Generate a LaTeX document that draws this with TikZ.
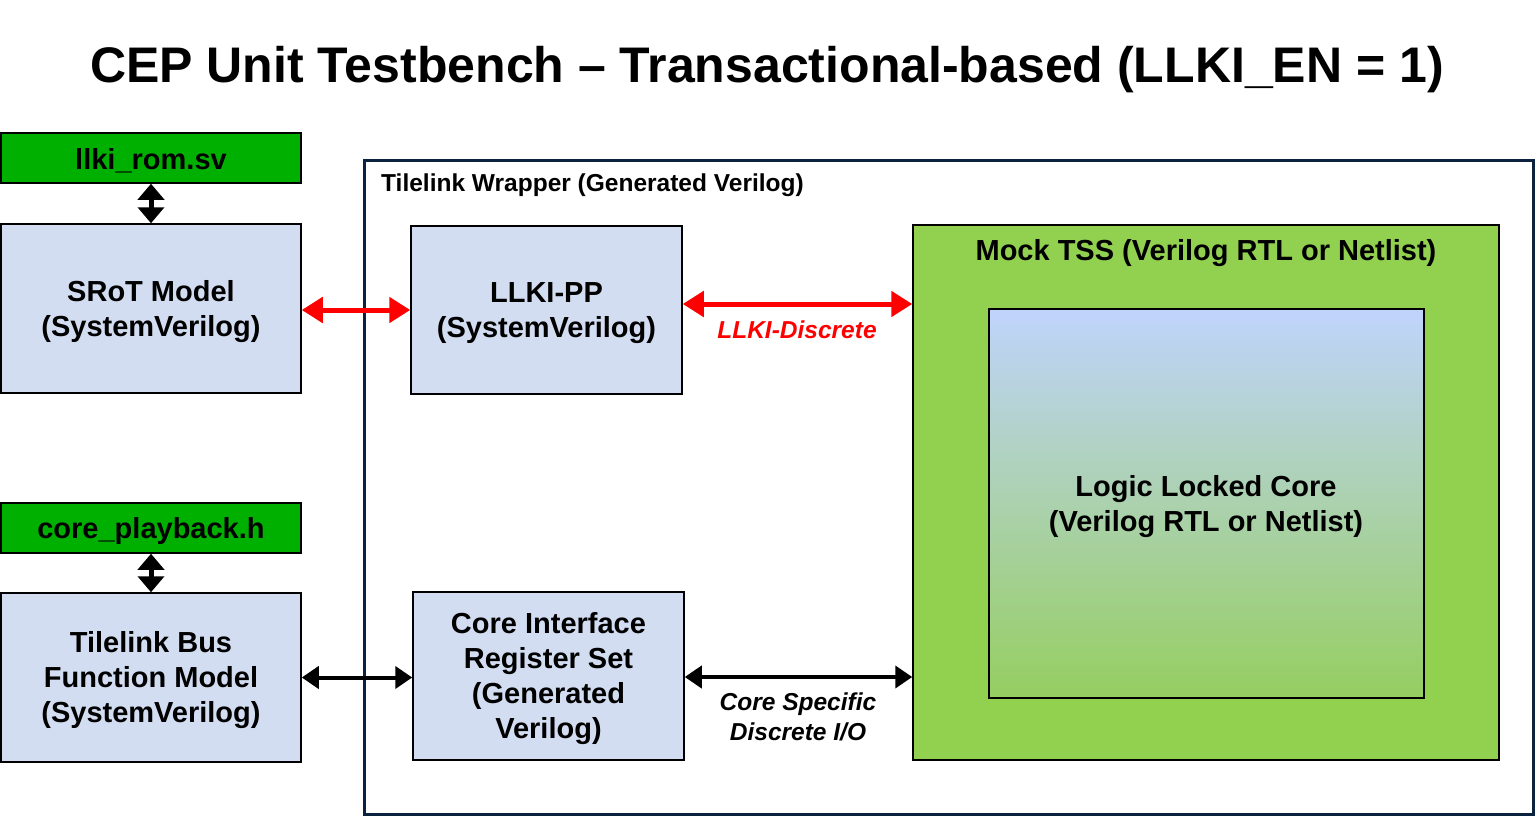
\documentclass[tikz,border=0pt]{standalone}
\usepackage{fontspec}
\setmainfont{Liberation Sans}
\usetikzlibrary{arrows.meta}
\definecolor{lb}{RGB}{211,221,242}
\definecolor{fg}{RGB}{0,176,0}
\definecolor{tssg}{RGB}{146,208,80}
\definecolor{navy}{RGB}{12,35,64}
\definecolor{coretop}{RGB}{192,212,252}
\definecolor{corebot}{RGB}{150,206,96}
\tikzset{
  box/.style={draw=black, line width=1.5pt, fill=lb, inner sep=0pt},
  filebox/.style={box, fill=fg},
  btxt/.style={align=center, inner sep=0pt, yshift=-3pt, font=\bfseries\fontsize{29}{35}\selectfont},
  lbl/.style={font=\bfseries\itshape\fontsize{24.5}{30}\selectfont, align=center, inner sep=0pt, yshift=-2pt},
  redarr/.style={draw=red, line width=5pt, {Triangle[length=21pt,width=25pt]}-{Triangle[length=21pt,width=25pt]}},
  blkarr/.style={draw=black, line width=4pt, {Triangle[length=17pt,width=22pt]}-{Triangle[length=17pt,width=22pt]}},
  varr/.style={draw=black, line width=5pt, {Triangle[length=16pt,width=26pt]}-{Triangle[length=16pt,width=26pt]}}
}
\begin{document}
\begin{tikzpicture}[x=1pt,y=-1pt]
\useasboundingbox (0,0) rectangle (1535,816);
\node[btxt, font=\bfseries\fontsize{50}{60}\selectfont] (title) at (767,67) {CEP Unit Testbench – Transactional-based (LLKI\_EN = 1)};

\node[draw=navy, line width=3pt, minimum width=1169pt, minimum height=654pt, inner sep=0pt] (wrap) at (948.5,487) {};
\node[anchor=west, font=\bfseries\fontsize{24.5}{30}\selectfont, inner sep=0pt, yshift=-2pt] (wraplbl) at (381,183) {Tilelink Wrapper (Generated Verilog)};

\node[filebox, minimum width=300pt, minimum height=50pt] (rom) at (151,158) {};
\node[btxt] (romt) at (rom.center) {llki\_rom.sv};
\node[box, minimum width=300pt, minimum height=169pt] (srot) at (151,308.5) {};
\node[btxt] (srott) at (srot.center) {SRoT Model\\(SystemVerilog)};
\node[filebox, minimum width=300pt, minimum height=50pt] (pb) at (151,528) {};
\node[btxt] (pbt) at (pb.center) {core\_playback.h};
\node[box, minimum width=300pt, minimum height=169pt] (bfm) at (151,677.5) {};
\node[btxt] (bfmt) at (bfm.center) {Tilelink Bus\\Function Model\\(SystemVerilog)};

\node[box, minimum width=271pt, minimum height=168pt] (pp) at (546.5,310) {};
\node[btxt] (ppt) at (pp.center) {LLKI-PP\\(SystemVerilog)};
\node[box, minimum width=271pt, minimum height=168pt] (cif) at (548.5,676) {};
\node[btxt] (cift) at (cif.center) {Core Interface\\Register Set\\(Generated\\Verilog)};

\node[box, fill=tssg, minimum width=586pt, minimum height=535pt] (tss) at (1206,492.5) {};
\node[btxt] (tsslbl) at (1206,250) {Mock TSS (Verilog RTL or Netlist)};
\node[draw=black, line width=1.5pt, top color=coretop, bottom color=corebot, minimum width=435pt, minimum height=389pt, inner sep=0pt] (core) at (1206.5,503.5) {};
\node[btxt] (corelbl) at (1206,503.5) {Logic Locked Core\\(Verilog RTL or Netlist)};

\draw[varr] (rom.south) -- (srot.north);
\draw[varr] (pb.south) -- (bfm.north);
\draw[redarr] ([yshift=-1.5pt]srot.east) -- ([yshift=-1.5pt]srot.east -| pp.west);
\draw[blkarr] (bfm.east) -- (bfm.east -| cif.west);
\draw[redarr] ([yshift=6pt]pp.east) -- ([yshift=6pt]pp.east -| tss.west);
\draw[blkarr] ([yshift=-1pt]cif.east) -- ([yshift=-1pt]cif.east -| tss.west);

\node[lbl, text=red] (lk) at (797,328) {LLKI-Discrete};
\node[lbl] (cs) at (798,715) {Core Specific\\Discrete I/O};
\end{tikzpicture}
\end{document}
